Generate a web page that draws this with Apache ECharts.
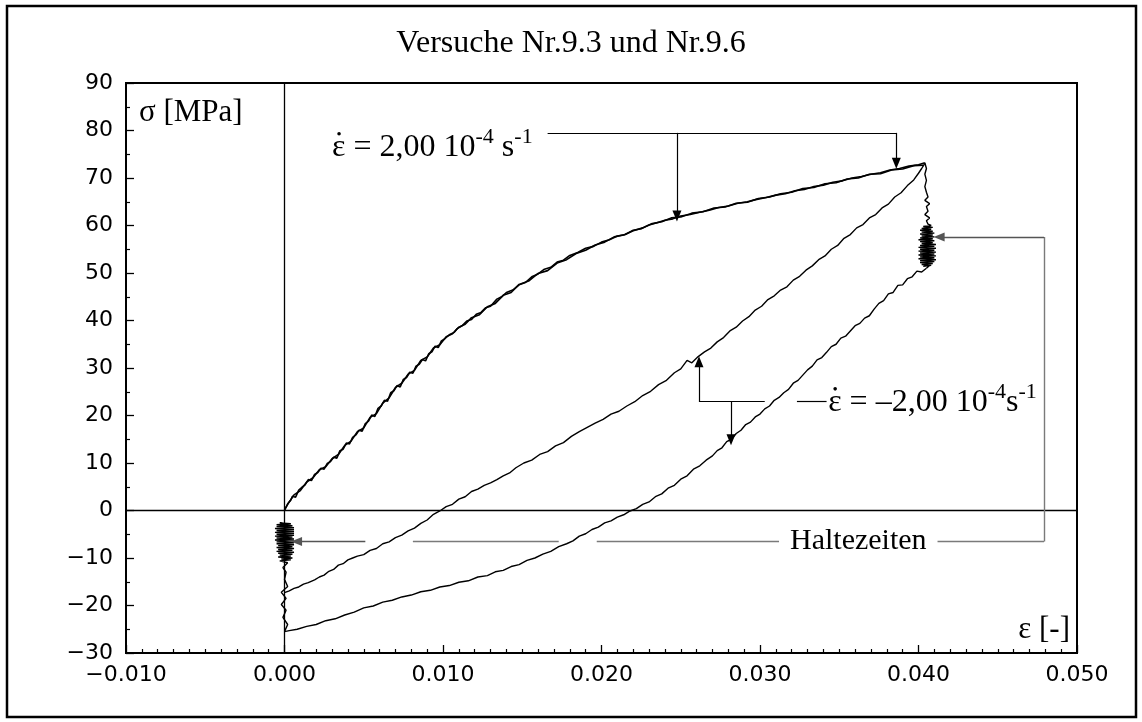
<!DOCTYPE html>
<html><head><meta charset="utf-8">
<script src="https://cdn.jsdelivr.net/npm/echarts@6/dist/echarts.min.js"></script>
<style>html,body{margin:0;padding:0;background:#fff}#c{width:1142px;height:722px}</style>
</head><body><div id="c"></div>
<script>
const titleText = 'Versuche Nr.9.3 und Nr.9.6';
const xMin = -0.01, xMax = 0.05, xStep = 0.01;
const yMin = -30, yMax = 90, yStep = 10;

// first loading (two overlapping traces)
const upperA = [[0,0],[0.0002,1.4],[0.0004,2.2],[0.0005,3.0],[0.0007,2.8],[0.0009,4.3],[0.0011,4.9],[0.0013,5.4],[0.0015,6.5],[0.0017,6.3],[0.0019,7.6],[0.0021,8.0],[0.0023,8.9],[0.0025,8.7],[0.0027,9.9],[0.0029,10.3],[0.0031,11.2],[0.0033,11.0],[0.0035,12.6],[0.0037,12.9],[0.0039,14.2],[0.0041,14.0],[0.0043,15.4],[0.0045,15.9],[0.0047,16.9],[0.0049,16.7],[0.0051,18.3],[0.0053,18.8],[0.0055,20.1],[0.0057,19.8],[0.0059,21.5],[0.0061,22.0],[0.0063,23.2],[0.0065,23.0],[0.0067,24.8],[0.0069,25.2],[0.0071,26.3],[0.0073,26.0],[0.0075,27.6],[0.0077,28.0],[0.0079,29.1],[0.0081,28.9],[0.0083,30.4],[0.0085,30.8],[0.0087,31.8],[0.0089,31.5],[0.0091,33.0],[0.0093,33.4],[0.0095,34.6],[0.0097,34.3],[0.0099,35.7],[0.0101,36.1],[0.0104,37.0],[0.0107,37.5],[0.0109,38.3],[0.0112,38.9],[0.0115,39.9],[0.0118,40.2],[0.0121,41.3],[0.0124,41.7],[0.0127,42.7],[0.0130,43.0],[0.0134,44.5],[0.0137,45.0],[0.0140,45.9],[0.0144,46.4],[0.0148,47.5],[0.0152,48.0],[0.0156,49.2],[0.0160,49.8],[0.0164,50.8],[0.0168,51.2],[0.0172,52.3],[0.0176,52.7],[0.0180,53.7],[0.0185,54.3],[0.0190,55.2],[0.0195,55.6],[0.0200,56.5],[0.0205,57.0],[0.0210,57.8],[0.0215,58.1],[0.0220,59.0],[0.0225,59.3],[0.0230,60.1],[0.0235,60.6],[0.0240,61.1],[0.0245,61.4],[0.0250,62.0],[0.0256,62.3],[0.0262,62.8],[0.0268,63.2],[0.0274,63.8],[0.0280,64.1],[0.0286,64.7],[0.0292,65.0],[0.0298,65.5],[0.0304,65.9],[0.0310,66.4],[0.0316,66.7],[0.0322,67.3],[0.0328,67.6],[0.0334,68.2],[0.0340,68.5],[0.0346,69.1],[0.0352,69.4],[0.0358,70.0],[0.0364,70.3],[0.0370,70.8],[0.0376,71.1],[0.0382,71.7],[0.0388,72.0],[0.0394,72.5],[0.0400,72.8],[0.0404,73.2]];
const upperB = [[0,0.2],[0.0003,1.8],[0.0006,3.3],[0.001,4.2],[0.0014,6.0],[0.0018,6.9],[0.0022,8.6],[0.0026,9.2],[0.003,10.9],[0.0034,11.8],[0.0038,13.7],[0.0042,14.6],[0.0046,16.6],[0.005,17.4],[0.0054,19.6],[0.0058,20.4],[0.0062,22.6],[0.0066,23.7],[0.007,25.9],[0.0074,26.8],[0.0078,28.7],[0.0082,29.5],[0.0086,31.6],[0.009,32.3],[0.0094,34.2],[0.0098,34.9],[0.0102,36.6],[0.0106,37.2],[0.011,38.6],[0.0114,39.2],[0.0118,40.6],[0.0123,41.2],[0.0128,42.9],[0.0133,43.6],[0.0138,45.3],[0.0143,45.9],[0.0148,47.6],[0.0154,48.3],[0.016,49.9],[0.0166,50.5],[0.0172,52.1],[0.0178,52.8],[0.0184,54.1],[0.019,54.8],[0.0196,55.9],[0.0202,56.5],[0.0208,57.6],[0.0214,58.0],[0.022,58.9],[0.0226,59.5],[0.0232,60.4],[0.0238,60.8],[0.0244,61.6],[0.025,61.8],[0.0257,62.6],[0.0264,62.9],[0.0271,63.7],[0.0278,63.9],[0.0285,64.7],[0.0292,64.9],[0.0299,65.7],[0.0306,66.0],[0.0313,66.7],[0.032,67.0],[0.0327,67.8],[0.0334,68.0],[0.0341,68.8],[0.0348,69.0],[0.0355,69.8],[0.0362,70.0],[0.0369,70.8],[0.0376,70.9],[0.0383,71.7],[0.039,71.9],[0.0397,72.6],[0.0403,72.7]];
// holding time at maximum strain
const holdTop = [[0.0404,73.2],[0.0405,72.0],[0.0404,70.8],[0.0405,69.5],[0.0404,68.2],[0.0405,67.0],[0.0406,66.0],[0.0404,65.3],[0.0407,64.6],[0.0405,64.0],[0.0406,63.0],[0.0404,62.3],[0.0407,61.6],[0.0405,61.0],[0.0406,60.3],[0.0408,60.0],[0.0403,59.8],[0.0409,59.6],[0.0402,59.4],[0.0408,59.2],[0.0401,59.0],[0.0409,58.8],[0.0402,58.6],[0.0410,58.4],[0.0401,58.2],[0.0409,58.0],[0.0402,57.8],[0.0410,57.6],[0.0401,57.4],[0.0409,57.2],[0.0400,57.0],[0.0410,56.8],[0.0401,56.6],[0.0409,56.4],[0.0402,56.2],[0.0411,56.0],[0.0401,55.8],[0.0410,55.6],[0.0400,55.4],[0.0411,55.2],[0.0401,55.0],[0.0410,54.8],[0.0400,54.6],[0.0411,54.4],[0.0401,54.2],[0.0410,54.0],[0.0400,53.8],[0.0411,53.6],[0.0401,53.4],[0.0410,53.2],[0.0400,53.0],[0.0411,52.8],[0.0401,52.6],[0.0410,52.4],[0.0401,52.2],[0.0409,52.0],[0.0402,51.8],[0.0408,51.6],[0.0403,51.4],[0.0407,51.6],[0.0405,51.0]];
// unloading
const lower = [[0.0405,51.0],[0.0402,50.2],[0.0399,50.4],[0.0396,49.2],[0.0393,48.8],[0.0390,47.5],[0.0387,47.4],[0.0384,45.9],[0.0381,45.6],[0.0378,44.2],[0.0375,43.6],[0.0372,42.4],[0.0369,41.0],[0.0366,40.5],[0.0363,39.4],[0.0360,38.9],[0.0357,37.8],[0.0354,36.7],[0.0351,36.3],[0.0348,35.0],[0.0345,34.5],[0.0342,33.3],[0.0339,32.2],[0.0336,31.7],[0.0333,30.4],[0.0330,29.6],[0.0327,28.5],[0.0324,27.4],[0.0321,26.8],[0.0318,25.5],[0.0315,24.8],[0.0312,23.8],[0.0309,23.2],[0.0306,22.0],[0.0303,21.4],[0.0300,20.3],[0.0297,19.7],[0.0294,18.6],[0.0291,18.1],[0.0288,16.9],[0.0285,16.2],[0.0282,15.0],[0.0279,14.5],[0.0276,13.2],[0.0273,12.6],[0.0270,11.5],[0.0266,10.6],[0.0262,9.4],[0.0258,8.7],[0.0254,7.3],[0.0250,6.6],[0.0246,5.3],[0.0242,4.7],[0.0238,3.5],[0.0234,2.9],[0.0230,1.8],[0.0226,1.3],[0.0222,0.4],[0.0218,-0.1],[0.0214,-0.9],[0.0210,-1.4],[0.0206,-2.2],[0.0202,-2.6],[0.0198,-3.5],[0.0194,-4.0],[0.0190,-4.9],[0.0186,-5.4],[0.0182,-6.4],[0.0178,-7.0],[0.0173,-7.6],[0.0168,-8.6],[0.0163,-9.2],[0.0158,-10.0],[0.0153,-10.5],[0.0148,-11.4],[0.0143,-11.8],[0.0138,-12.6],[0.0133,-12.9],[0.0128,-13.7],[0.0122,-14.0],[0.0116,-14.8],[0.0110,-15.1],[0.0104,-15.8],[0.0098,-16.1],[0.0092,-16.8],[0.0086,-17.1],[0.0080,-17.8],[0.0074,-18.2],[0.0068,-18.9],[0.0062,-19.3],[0.0056,-20.1],[0.0050,-20.5],[0.0044,-21.4],[0.0038,-22.0],[0.0032,-22.8],[0.0026,-23.2],[0.0020,-24.0],[0.0014,-24.4],[0.0008,-25.0],[0.0003,-25.3],[0.0000,-25.5]];
// holding time at zero strain
const holdBottom = [[0,-25.5],[0.0002,-24.0],[-0.0001,-22.5],[0.0001,-21.0],[-0.0002,-19.8],[0.0001,-18.5],[-0.0002,-17.2],[0.0002,-16.0],[0.0000,-14.5],[0.0001,-13.0],[-0.0001,-12.0],[0.0002,-11.0],[-0.0003,-10.6],[0.0004,-10.4],[-0.0002,-10.2],[0.0005,-10.0],[-0.0004,-9.8],[0.0004,-9.6],[-0.0003,-9.4],[0.0005,-9.2],[-0.0004,-9.0],[0.0006,-8.8],[-0.0005,-8.6],[0.0005,-8.4],[-0.0004,-8.2],[0.0006,-8.0],[-0.0005,-7.8],[0.0005,-7.6],[-0.0004,-7.4],[0.0006,-7.2],[-0.0005,-7.0],[0.0006,-6.8],[-0.0005,-6.6],[0.0006,-6.4],[-0.0006,-6.2],[0.0006,-6.0],[-0.0005,-5.8],[0.0005,-5.6],[-0.0006,-5.4],[0.0006,-5.2],[-0.0005,-5.0],[0.0006,-4.8],[-0.0006,-4.6],[0.0006,-4.4],[-0.0005,-4.2],[0.0006,-4.0],[-0.0006,-3.8],[0.0006,-3.6],[-0.0005,-3.4],[0.0005,-3.2],[-0.0005,-3.0],[0.0004,-2.8],[-0.0003,-2.6],[0.0002,-2.9]];
// reloading
const middle = [[0.0000,-17.3],[0.0003,-16.9],[0.0006,-16.4],[0.0009,-16.1],[0.0012,-15.5],[0.0015,-15.2],[0.0019,-14.6],[0.0022,-14.0],[0.0025,-13.6],[0.0028,-12.8],[0.0031,-12.4],[0.0034,-11.5],[0.0037,-11.2],[0.0040,-10.4],[0.0043,-10.0],[0.0046,-9.6],[0.0050,-9.3],[0.0054,-8.4],[0.0058,-8.0],[0.0062,-7.0],[0.0066,-6.6],[0.0070,-5.7],[0.0074,-5.2],[0.0078,-4.3],[0.0082,-3.7],[0.0086,-2.7],[0.0090,-2.0],[0.0094,-0.8],[0.0098,-0.1],[0.0102,0.8],[0.0106,1.3],[0.0110,2.4],[0.0114,2.9],[0.0118,4.0],[0.0122,4.5],[0.0126,5.3],[0.0130,5.8],[0.0134,6.5],[0.0138,7.3],[0.0142,7.9],[0.0146,9.0],[0.0151,10.0],[0.0156,10.6],[0.0161,11.8],[0.0166,12.4],[0.0171,13.6],[0.0176,14.3],[0.0181,15.6],[0.0186,16.6],[0.0191,17.5],[0.0196,18.4],[0.0201,19.2],[0.0206,20.3],[0.0211,20.9],[0.0216,22.0],[0.0221,22.9],[0.0226,24.2],[0.0231,25.1],[0.0236,26.5],[0.0241,27.4],[0.0246,29.0],[0.0250,29.8],[0.0254,31.6],[0.0257,31.1],[0.0261,32.4],[0.0265,33.4],[0.0269,34.2],[0.0273,35.5],[0.0277,36.4],[0.0281,37.8],[0.0285,38.6],[0.0289,39.9],[0.0293,40.8],[0.0297,42.2],[0.0301,43.0],[0.0305,44.4],[0.0309,45.2],[0.0313,46.4],[0.0317,47.1],[0.0321,48.5],[0.0325,49.3],[0.0329,50.6],[0.0333,51.5],[0.0337,52.8],[0.0341,53.6],[0.0345,55.0],[0.0349,55.8],[0.0353,57.3],[0.0357,58.1],[0.0361,59.5],[0.0365,60.2],[0.0369,61.6],[0.0373,62.3],[0.0377,63.7],[0.0381,64.5],[0.0385,66.0],[0.0389,66.9],[0.0393,68.4],[0.0397,69.6],[0.0400,71.0],[0.0402,72.0],[0.0404,73.1]];

// annotations (data coordinates)
const upLabelPos = [0.0030, 77.0];
const upLine = [[0.0166,79.5],[0.0386,79.5]];
const upArrows = [[[0.0386,79.5],[0.0386,73.1]],[[0.02476,79.5],[0.02476,62.0]]];
const loLabelPos = [0.0343, 23.3];
const loLines = [[[0.02615,22.9],[0.0303,22.9]],[[0.03233,22.9],[0.0342,22.9]]];
const loArrows = [[[0.02615,22.9],[0.02615,31.3]],[[0.02817,22.9],[0.02817,14.9]]];
const holdLabelPos = [0.0362, -6.5];
const holdLines = [[[0.0081,-6.5],[0.0173,-6.5]],[[0.0197,-6.5],[0.0312,-6.5]],[[0.0412,-6.5],[0.04792,-6.5]],[[0.04792,-6.5],[0.04792,57.6]]];
const holdArrows = [[[0.0051,-6.5],[0.00076,-6.5]],[[0.04792,57.6],[0.0413,57.6]]];

const chart = echarts.init(document.getElementById('c'));
const fmt = (v, d) => (v < 0 ? '\u2212' : '') + Math.abs(v).toFixed(d);
const curve = (name, data, w) => ({
  name, type: 'line', data, showSymbol: false, symbol: 'none', smooth: false, silent: true,
  lineStyle: {color: '#000', width: w || 1.4}, z: 3
});
const seg = (p, q, arrow, color, w) => [
  {coord: p, symbol: 'none'},
  {coord: q, symbol: arrow ? 'triangle' : 'none', symbolSize: [9, 11], lineStyle: {color, width: w}}
];
const annData = [];
annData.push(seg(upLine[0], upLine[1], false, '#000', 1.2));
upArrows.forEach(a => annData.push(seg(a[0], a[1], true, '#000', 1.2)));
loLines.forEach(a => annData.push(seg(a[0], a[1], false, '#000', 1.2)));
loArrows.forEach(a => annData.push(seg(a[0], a[1], true, '#000', 1.2)));
holdLines.forEach(a => annData.push(seg(a[0], a[1], false, '#7a7a7a', 1.4)));
holdArrows.forEach(a => annData.push(seg(a[0], a[1], true, '#555', 1.4)));

const serif = 'Liberation Serif';
const sans = 'DejaVu Sans';
chart.setOption({
  animation: false,
  backgroundColor: '#fff',
  grid: {left: 126, right: 65, top: 83, bottom: 69, show: true, borderColor: '#000', borderWidth: 2, backgroundColor: 'transparent'},
  xAxis: {
    type: 'value', min: xMin, max: xMax, interval: xStep,
    axisLine: {onZero: false, lineStyle: {color: '#000', width: 2}},
    axisTick: {inside: true, length: 8, lineStyle: {color: '#000', width: 1.3}},
    minorTick: {show: true, splitNumber: 10, length: 4, lineStyle: {color: '#000', width: 1.2}},
    splitLine: {show: false},
    axisLabel: {margin: 11, color: '#000', fontFamily: sans, fontSize: 22, formatter: v => fmt(v, 3)}
  },
  yAxis: {
    type: 'value', min: yMin, max: yMax, interval: yStep,
    axisLine: {onZero: false, lineStyle: {color: '#000', width: 2}},
    axisTick: {inside: true, length: 8, lineStyle: {color: '#000', width: 1.3}},
    minorTick: {show: true, splitNumber: 2, length: 4, lineStyle: {color: '#000', width: 1.2}},
    splitLine: {show: false},
    axisLabel: {margin: 13, color: '#000', fontFamily: sans, fontSize: 22, formatter: v => fmt(v, 0)}
  },
  series: [
    Object.assign(curve('zero', []), {
      markLine: {silent: true, symbol: 'none', label: {show: false}, lineStyle: {color: '#000', width: 1.3, type: 'solid'},
        data: [{xAxis: 0}, {yAxis: 0}]}
    }),
    curve('upperA', upperA, 1.6),
    curve('upperB', upperB, 1.6),
    curve('holdTop', holdTop),
    curve('lower', lower),
    curve('holdBottom', holdBottom),
    curve('middle', middle),
    Object.assign(curve('ann', []), {
      markLine: {silent: true, symbol: 'none', label: {show: false}, lineStyle: {color: '#000', width: 1.2, type: 'solid'},
        itemStyle: {color: '#000'}, data: annData, z: 5}
    })
  ]
});

const px = p => chart.convertToPixel({gridIndex: 0}, p);
const up = px(upLabelPos), lo = px(loLabelPos), hl = px(holdLabelPos);
const rich = {
  m: {fontFamily: serif, fontSize: 32, lineHeight: 38, verticalAlign: 'bottom', fill: '#000'},
  s: {fontFamily: serif, fontSize: 22, lineHeight: 20, verticalAlign: 'top', fill: '#000'}
};
const dot = (p) => ({type: 'circle', silent: true, shape: {cx: p[0] + 7, cy: p[1] - 11, r: 1.8}, style: {fill: '#000'}});
chart.setOption({
  graphic: [
    {type: 'rect', silent: true, shape: {x: 7, y: 6, width: 1129, height: 711}, style: {fill: 'none', stroke: '#000', lineWidth: 2.5}, z: 0},
    {type: 'text', silent: true, x: 571, y: 44, style: {text: titleText, fontFamily: serif, fontSize: 32, fill: '#000', align: 'center', verticalAlign: 'middle'}},
    {type: 'text', silent: true, x: 139, y: 113, style: {text: '\u03c3 [MPa]', fontFamily: serif, fontSize: 31, fill: '#000', align: 'left', verticalAlign: 'middle'}},
    {type: 'text', silent: true, x: 1070, y: 630, style: {text: '\u03b5 [-]', fontFamily: serif, fontSize: 31, fill: '#000', align: 'right', verticalAlign: 'middle'}},
    {type: 'text', silent: true, x: up[0], y: up[1], style: {text: '{m|\u03b5 = 2,00 10}{s|-4}{m| s}{s|-1}', rich, align: 'left', verticalAlign: 'middle'}},
    dot(up),
    {type: 'text', silent: true, x: lo[0], y: lo[1], style: {text: '{m|\u03b5 = \u20132,00 10}{s|-4}{m|s}{s|-1}', rich, align: 'left', verticalAlign: 'middle'}},
    dot(lo),
    {type: 'text', silent: true, x: hl[0], y: hl[1], style: {text: 'Haltezeiten', fontFamily: serif, fontSize: 30, fill: '#000', align: 'center', verticalAlign: 'middle'}}
  ]
});
</script></body></html>
